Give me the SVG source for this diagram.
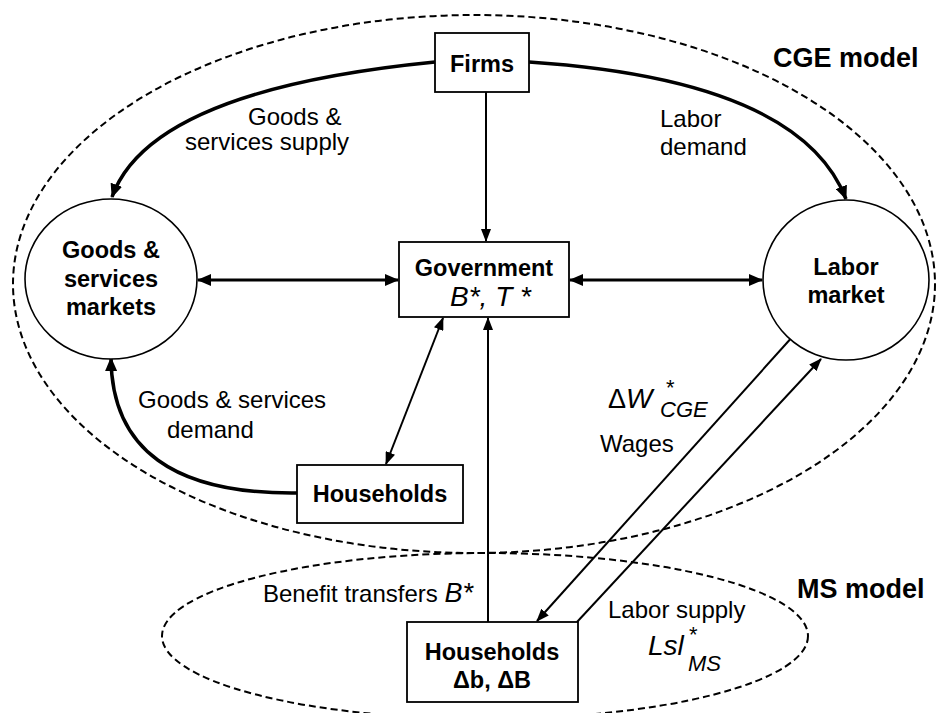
<svg xmlns="http://www.w3.org/2000/svg" width="936" height="713" viewBox="0 0 936 713">
<style>
text{font-family:"Liberation Sans",Arial,sans-serif;fill:#000}
.b{font-weight:bold;font-size:23.5px}
.t{font-size:24px}
.title{font-weight:bold;font-size:27px}
.it{font-style:italic}
.box{fill:#fff;stroke:#000;stroke-width:1.8}
.circ{fill:#fff;stroke:#000;stroke-width:1.6}
.dash{fill:none;stroke:#000;stroke-width:2;stroke-dasharray:7 4}
.thick{fill:none;stroke:#000;stroke-width:3.5}
.med{fill:none;stroke:#000;stroke-width:3}
.thin{fill:none;stroke:#000;stroke-width:2}
</style>
<defs>
<marker id="ah" markerUnits="userSpaceOnUse" markerWidth="14" markerHeight="12" viewBox="0 0 14 12" refX="13" refY="6" orient="auto-start-reverse">
<path d="M0,0 L14,6 L0,12 z" fill="#000"/>
</marker>
<marker id="ahs" markerUnits="userSpaceOnUse" markerWidth="13" markerHeight="10" viewBox="0 0 13 10" refX="12" refY="5" orient="auto-start-reverse">
<path d="M0,0 L13,5 L0,10 z" fill="#000"/>
</marker>
</defs>
<rect width="936" height="713" fill="#fff"/>

<g id="cge-boundary">
<ellipse class="dash" cx="474" cy="284" rx="461" ry="269"/>
<text class="title" x="773" y="67">CGE model</text>
</g>
<g id="ms-boundary">
<ellipse class="dash" cx="485" cy="636" rx="323" ry="83"/>
<text class="title" x="797" y="598">MS model</text>
</g>

<g id="connectors">
<path class="thick" d="M435,62 Q150,90 112,197" marker-end="url(#ah)"/>
<path class="thick" d="M529,62 Q800,80 846,199" marker-end="url(#ah)"/>
<path class="thick" d="M297,493 Q112,495 111,358" marker-end="url(#ah)"/>
<line class="thin" x1="486" y1="92" x2="486" y2="241" marker-end="url(#ahs)"/>
<line class="med" x1="198" y1="280" x2="398" y2="280" marker-start="url(#ah)" marker-end="url(#ah)"/>
<line class="med" x1="570" y1="280" x2="762" y2="280" marker-start="url(#ah)" marker-end="url(#ah)"/>
<line class="thin" x1="386" y1="464" x2="443" y2="318" marker-start="url(#ahs)" marker-end="url(#ahs)"/>
<line class="thin" x1="488" y1="622" x2="488" y2="318" marker-end="url(#ahs)"/>
<line class="thin" x1="794" y1="335" x2="537" y2="621" marker-end="url(#ahs)"/>
<line class="thin" x1="577" y1="622" x2="821" y2="359" marker-end="url(#ahs)"/>
<text class="t" x="248" y="125">Goods &amp;</text>
<text class="t" x="185" y="150">services supply</text>
<text class="t" x="660" y="127">Labor</text>
<text class="t" x="660" y="155">demand</text>
<text class="t" x="138" y="408">Goods &amp; services</text>
<text class="t" x="167" y="438">demand</text>
<text class="t" x="263" y="602">Benefit transfers <tspan class="it" font-size="27">B*</tspan></text>
<text x="608" y="408" font-size="27">Δ<tspan class="it" font-size="28">W</tspan><tspan x="666" y="395" font-size="22">*</tspan><tspan class="it" x="660" y="417" font-size="22">CGE</tspan></text>
<text class="t" x="600" y="452">Wages</text>
<text class="t" x="608" y="618">Labor supply</text>
<text class="it" x="648" y="655" font-size="28">Lsl<tspan font-style="normal" x="689" y="642" font-size="22">*</tspan><tspan x="688" y="671" font-size="22">MS</tspan></text>
</g>

<g id="firms">
<rect class="box" x="435" y="33" width="94" height="59"/>
<text class="b" x="482" y="72" text-anchor="middle">Firms</text>
</g>
<g id="government">
<rect class="box" x="399" y="242" width="170" height="75"/>
<text class="b" x="484" y="276" text-anchor="middle">Government</text>
<text class="it" x="450" y="306" font-size="28">B*, T *</text>
</g>
<g id="goods-markets">
<ellipse class="circ" cx="111" cy="279" rx="86" ry="80"/>
<text class="b" x="111" y="258" text-anchor="middle">Goods &amp;</text>
<text class="b" x="111" y="287" text-anchor="middle">services</text>
<text class="b" x="111" y="315" text-anchor="middle">markets</text>
</g>
<g id="labor-market">
<ellipse class="circ" cx="846" cy="280" rx="83" ry="80"/>
<text class="b" x="846" y="275" text-anchor="middle">Labor</text>
<text class="b" x="846" y="303" text-anchor="middle">market</text>
</g>
<g id="households-cge">
<rect class="box" x="297" y="465" width="166" height="58"/>
<text class="b" x="380" y="502" text-anchor="middle">Households</text>
</g>
<g id="households-ms">
<rect class="box" x="407" y="622" width="171" height="80"/>
<text class="b" x="492" y="660" text-anchor="middle">Households</text>
<text class="b" x="492" y="688" text-anchor="middle">Δb, ΔB</text>
</g>
</svg>
